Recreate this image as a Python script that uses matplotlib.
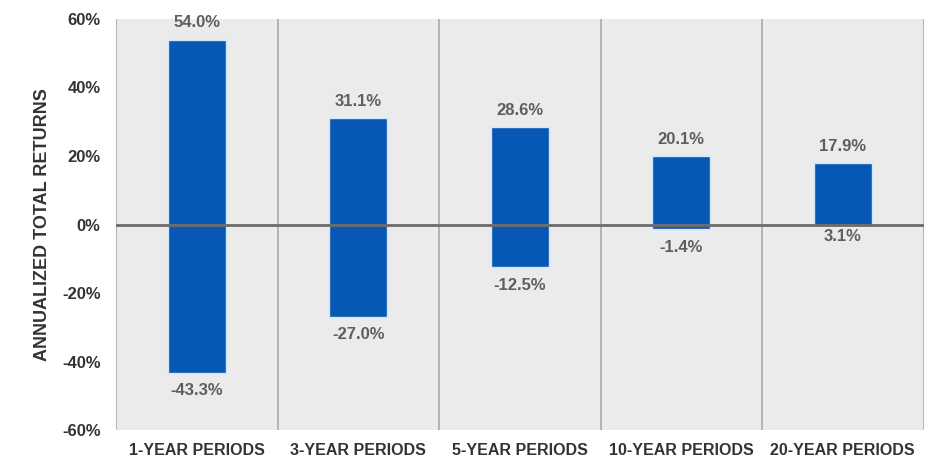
import numpy as np
import matplotlib.pyplot as plt
from matplotlib.ticker import FuncFormatter

periods = ["1-YEAR PERIODS", "3-YEAR PERIODS", "5-YEAR PERIODS",
           "10-YEAR PERIODS", "20-YEAR PERIODS"]
high = [54.0, 31.1, 28.6, 20.1, 17.9]
low = [-43.3, -27.0, -12.5, -1.4, 3.1]
yticks = [-60, -40, -20, 0, 20, 40, 60]

plt.rcParams['font.family'] = ['Liberation Sans', 'DejaVu Sans']

fig = plt.figure(figsize=(9.25, 4.62), dpi=100)
ax = fig.add_axes([0.1254, 0.069, 0.873, 0.89])
ax.set_facecolor('#ebebeb')

x = np.arange(len(periods))
bar_color = '#0757b4'
edge = '#cfe6fb'
w = 0.36

# positive part and negative part of each range
bottoms = [min(l, 0) for l in low]
ax.bar(x, high, width=w, color=bar_color, edgecolor=edge, linewidth=1.0, zorder=3)
ax.bar(x, bottoms, width=w, color=bar_color, edgecolor=edge, linewidth=1.0, zorder=3)

# zero line and category separators
ax.axhline(0, color='#6b6b6b', linewidth=2, zorder=4)
for s in np.arange(-0.5, len(periods), 1.0):
    ax.axvline(s, color='#a9a9a9', linewidth=1.2, zorder=2)

for i in range(len(periods)):
    ax.annotate(f"{high[i]:.1f}%", (x[i], high[i]), xytext=(0, 6.5),
                textcoords='offset points', ha='center', va='bottom',
                fontsize=12, fontweight='bold', color='#5e5e5e', zorder=5)
    dy = -3 if low[i] > 0 else -7.5
    ax.annotate(f"{low[i]:.1f}%", (x[i], bottoms[i]), xytext=(0, dy),
                textcoords='offset points', ha='center', va='top',
                fontsize=12, fontweight='bold', color='#5e5e5e', zorder=5)

ax.set_xlim(-0.5, len(periods) - 0.5)
ax.set_ylim(-60, 60)
ax.set_yticks(yticks)
ax.yaxis.set_major_formatter(FuncFormatter(lambda v, p: f"{v:.0f}%"))
ax.set_xticks(x)
ax.set_xticklabels(periods)
ax.tick_params(axis='both', length=0, labelcolor='#333333')
ax.tick_params(axis='y', pad=11, labelsize=12)
ax.tick_params(axis='x', pad=9, labelsize=11.5)
for lab in ax.get_xticklabels() + ax.get_yticklabels():
    lab.set_fontweight('bold')

ax.set_ylabel("ANNUALIZED TOTAL RETURNS", fontsize=13, fontweight='bold',
              color='#333333', labelpad=8)

for sp in ax.spines.values():
    sp.set_visible(False)

fig.savefig('out.png', dpi=100)
